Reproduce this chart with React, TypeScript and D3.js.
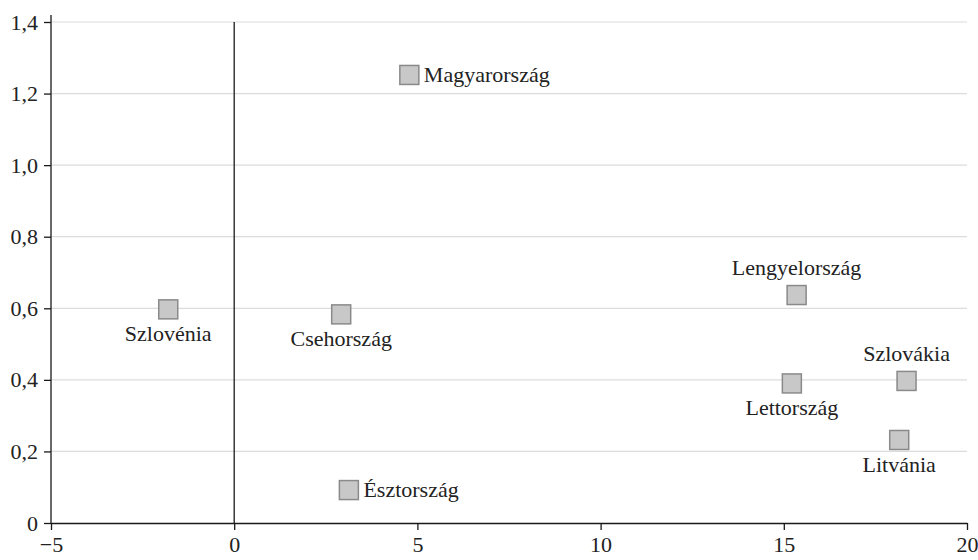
import React, { useEffect, useRef } from 'react';
import * as d3 from 'd3';

const countries = ['Magyarország', 'Szlovénia', 'Csehország', 'Észtország', 'Lengyelország', 'Lettország', 'Szlovákia', 'Litvánia'];
const xValues = [4.78, -1.8, 2.92, 3.13, 15.35, 15.22, 18.35, 18.15];
const yValues = [1.252, 0.597, 0.583, 0.092, 0.637, 0.39, 0.397, 0.232];
// where each label sits relative to its marker
const labelSides = ['right', 'below', 'below', 'right', 'above', 'below', 'above', 'below'];
const xTicks = [-5, 0, 5, 10, 15, 20];
const yTicks = [0, 0.2, 0.4, 0.6, 0.8, 1.0, 1.2, 1.4];

const W = 978;
const H = 560;
const FONT = '"Liberation Serif"';
const FS = 22;

export default function App() {
  const ref = useRef<SVGSVGElement>(null);

  useEffect(() => {
    const svg = d3.select(ref.current);
    svg.selectAll('*').remove();

    const margin = { top: 22, right: 11, bottom: 37, left: 51 };
    const x = d3.scaleLinear().domain([-5, 20]).range([margin.left, W - margin.right]);
    const y = d3.scaleLinear().domain([0, 1.4]).range([H - margin.bottom, margin.top]);
    const fmtY = (v: number) => (v === 0 ? '0' : d3.format('.1f')(v).replace('.', ','));

    // gridlines
    svg.append('g')
      .selectAll('line')
      .data(yTicks.filter((t) => t > 0))
      .join('line')
      .attr('x1', x(-5))
      .attr('x2', x(20))
      .attr('y1', (d) => y(d))
      .attr('y2', (d) => y(d))
      .attr('stroke', '#dcdcdc')
      .attr('stroke-width', 1.2);

    // zero line
    svg.append('line')
      .attr('x1', x(0))
      .attr('x2', x(0))
      .attr('y1', y(1.4))
      .attr('y2', y(0))
      .attr('stroke', '#1a1a1a')
      .attr('stroke-width', 1.3);

    const yAxis = svg.append('g')
      .attr('transform', `translate(${x(-5)},0)`)
      .call(d3.axisLeft(y).tickValues(yTicks).tickFormat((d) => fmtY(+d)).tickSize(7).tickSizeOuter(0));
    yAxis.attr('font-family', null).attr('font-size', null);
    yAxis.select('.domain').attr('d', `M0,${y(1.4) - 7}V${y(0)}`).attr('stroke', '#1a1a1a').attr('stroke-width', 1.3);
    yAxis.selectAll('.tick line').attr('stroke', '#1a1a1a').attr('stroke-width', 1.3);
    yAxis.selectAll('.tick text')
      .attr('x', -13)
      .attr('fill', '#222');

    const xAxis = svg.append('g')
      .attr('transform', `translate(0,${y(0)})`)
      .call(d3.axisBottom(x).tickValues(xTicks).tickSize(7).tickSizeOuter(0));
    xAxis.attr('font-family', null).attr('font-size', null);
    xAxis.select('.domain').attr('stroke', '#1a1a1a').attr('stroke-width', 1.3);
    xAxis.selectAll('.tick line').attr('stroke', '#1a1a1a').attr('stroke-width', 1.3);
    xAxis.selectAll('.tick text')
      .attr('y', 13)
      .attr('fill', '#222');

    const data = countries.map((name, i) => ({ name, x: xValues[i], y: yValues[i], side: labelSides[i] }));
    const s = 19;

    const pts = svg.append('g').selectAll('g').data(data).join('g')
      .attr('transform', (d) => `translate(${x(d.x)},${y(d.y)})`);

    pts.append('rect')
      .attr('x', -s / 2)
      .attr('y', -s / 2)
      .attr('width', s)
      .attr('height', s)
      .attr('fill', '#c8c8c8')
      .attr('stroke', '#8a8a8a')
      .attr('stroke-width', 1.5);

    pts.append('text')
      .attr('fill', '#222')
      .attr('text-anchor', (d) => (d.side === 'right' ? 'start' : 'middle'))
      .attr('x', (d) => (d.side === 'right' ? s / 2 + 5 : 0))
      .attr('y', (d) => (d.side === 'right' ? 7 : d.side === 'above' ? -20 : 32))
      .text((d) => d.name);
  }, []);

  return (
    <svg
      ref={ref}
      width={W}
      height={H}
      style={{ position: 'absolute', left: 0, top: 0, background: '#fff', fontFamily: FONT, fontSize: FS }}
    />
  );
}
